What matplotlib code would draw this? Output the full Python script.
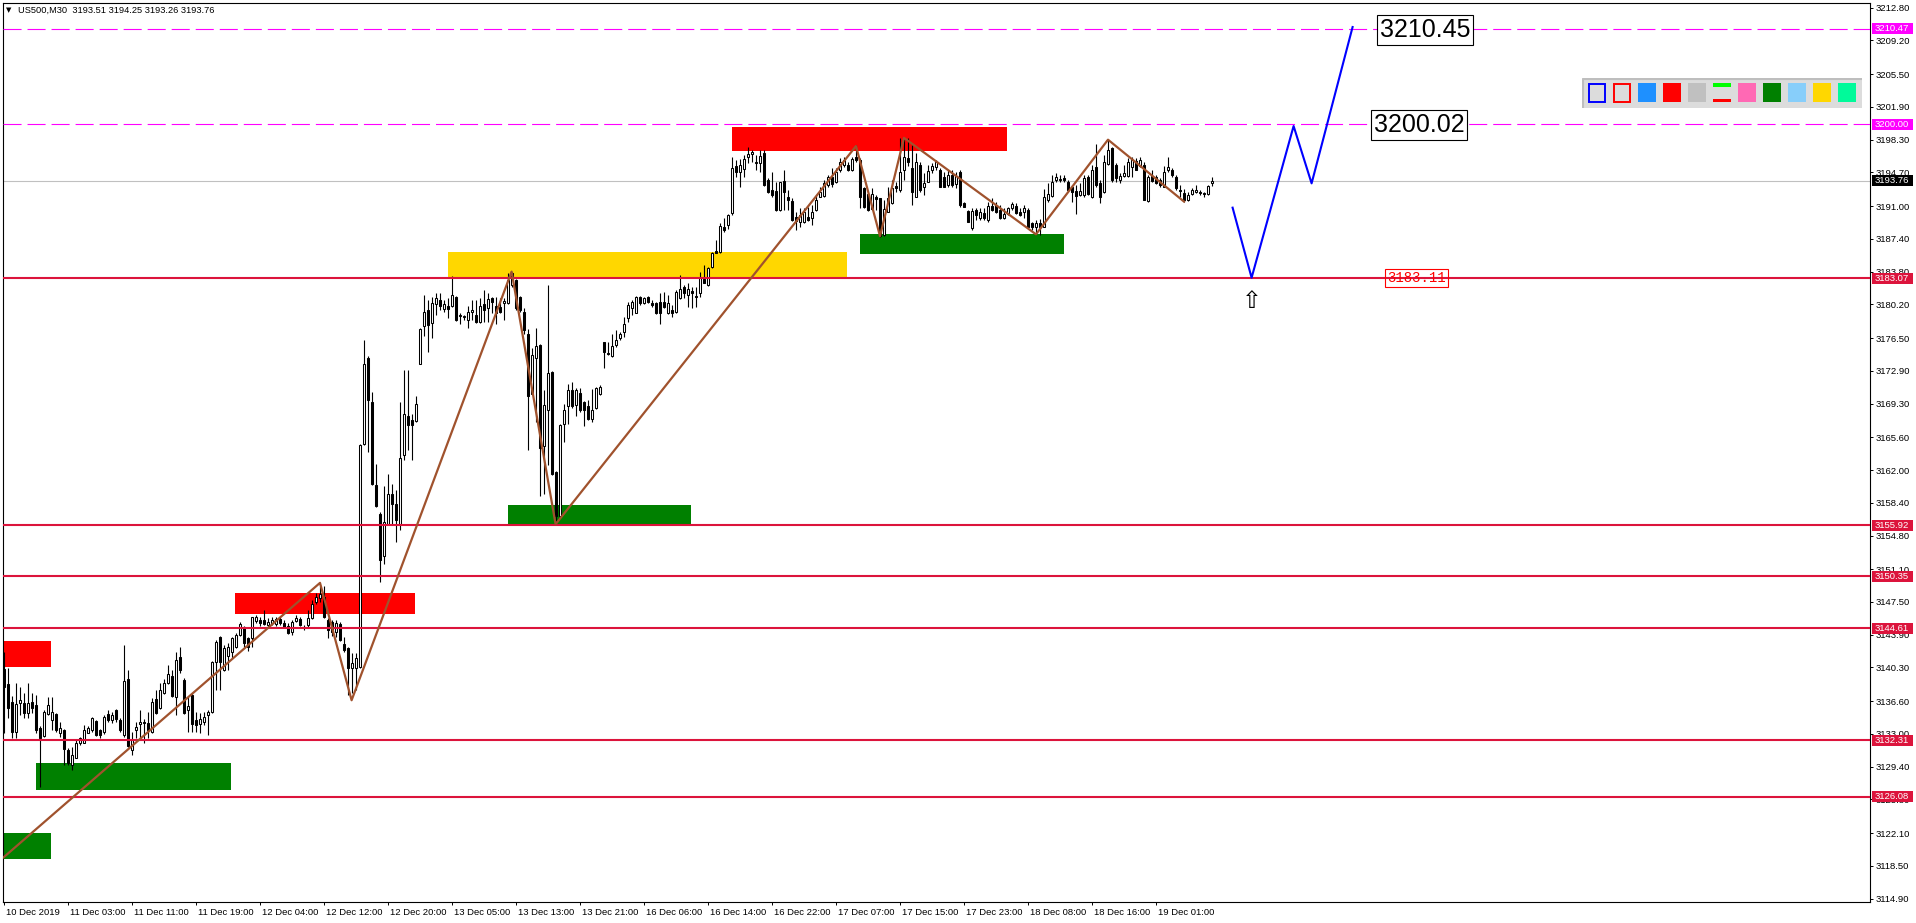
import matplotlib
matplotlib.use("Agg")
import matplotlib.pyplot as plt
import numpy as np
from matplotlib.patches import Rectangle
from matplotlib.transforms import blended_transform_factory, ScaledTranslation

plt.rcParams["font.family"] = ["Liberation Sans", "DejaVu Sans"]
plt.rcParams["lines.scale_dashes"] = False

# ---- US500 M30 candles (bar index 0 = 10 Dec 2019 start) ----
opens = [
    3140.1, 3138.5, 3136.5, 3133.2, 3136.4, 3136.4, 3135.3, 3136.5, 3136.2, 3133.7,
    3132.8, 3135.2, 3134.5, 3135.2, 3133.1, 3133.4, 3131.2, 3129.6, 3130.4, 3132.0,
    3132.0, 3133.1, 3133.4, 3134.4, 3133.4, 3133.2, 3135.2, 3134.5, 3135.6, 3134.5,
    3132.9, 3139.0, 3131.2, 3133.4, 3134.1, 3134.3, 3134.2, 3133.2, 3136.8, 3135.8,
    3137.5, 3138.6, 3139.4, 3137.1, 3141.5, 3138.9, 3135.6, 3137.3, 3134.5, 3134.1,
    3134.3, 3135.1, 3135.4, 3140.9, 3143.6, 3140.0, 3141.6, 3142.0, 3142.6, 3143.9,
    3144.8, 3143.5, 3143.5, 3145.4, 3145.5, 3145.5, 3145.0, 3145.2, 3145.1, 3145.6,
    3145.2, 3144.9, 3144.2, 3145.4, 3145.6, 3144.8, 3145.0, 3145.7, 3147.5, 3147.9,
    3148.1, 3145.5, 3145.3, 3144.2, 3145.1, 3142.9, 3142.4, 3140.2, 3140.2, 3140.4,
    3164.9, 3174.3, 3169.5, 3160.4, 3157.2, 3152.5, 3156.1, 3159.4, 3158.3, 3156.1,
    3163.7, 3167.9, 3167.5, 3167.4, 3173.7, 3177.8, 3179.6, 3178.2, 3180.2, 3180.7,
    3179.7, 3180.0, 3180.0, 3181.0, 3178.9, 3178.8, 3178.5, 3179.4, 3179.0, 3178.3,
    3180.2, 3179.8, 3180.9, 3180.0, 3179.9, 3180.3, 3180.3, 3182.3, 3182.9, 3181.0,
    3179.4, 3177.0, 3170.4, 3174.3, 3175.7, 3164.6, 3168.6, 3172.8, 3161.8, 3156.9,
    3167.1, 3169.0, 3170.8, 3169.1, 3170.5, 3169.5, 3169.0, 3167.6, 3168.8, 3170.4,
    3176.1, 3174.9, 3174.5, 3175.7, 3176.5, 3177.2, 3178.7, 3179.8, 3179.3, 3181.0,
    3180.3, 3181.0, 3180.4, 3180.3, 3180.5, 3180.5, 3179.2, 3179.6, 3179.4, 3180.9,
    3182.1, 3181.2, 3181.7, 3181.1, 3181.4, 3183.0, 3182.3, 3184.3, 3186.1, 3186.0,
    3188.7, 3188.9, 3190.2, 3195.4, 3194.8, 3195.1, 3196.4, 3196.7, 3195.7, 3195.7,
    3196.8, 3193.9, 3192.8, 3192.7, 3190.6, 3193.8, 3192.0, 3191.6, 3189.8, 3189.3,
    3189.2, 3189.8, 3189.7, 3190.6, 3192.0, 3192.1, 3193.3, 3194.2, 3193.6, 3195.0,
    3195.5, 3195.5, 3195.0, 3196.4, 3196.1, 3193.0, 3192.3, 3190.7, 3192.0, 3191.9,
    3187.8, 3190.4, 3191.3, 3193.2, 3192.8, 3195.0, 3196.3, 3195.2, 3192.0, 3195.5,
    3193.1, 3193.7, 3195.0, 3195.3, 3195.0, 3194.2, 3193.3, 3194.4, 3193.4, 3194.8,
    3191.3, 3190.5, 3188.6, 3190.6, 3189.7, 3190.2, 3189.5, 3191.0, 3191.1, 3190.6,
    3189.7, 3190.1, 3190.8, 3191.0, 3190.4, 3190.4, 3190.6, 3189.1, 3188.7, 3189.1,
    3188.7, 3191.7, 3192.1, 3193.9, 3193.9, 3194.1, 3193.7, 3193.1, 3192.7, 3192.2,
    3192.2, 3194.2, 3192.0, 3195.3, 3193.5, 3192.5, 3195.6, 3197.4, 3195.5, 3193.9,
    3194.3, 3194.3, 3195.3, 3196.0, 3195.4, 3195.5, 3191.6, 3194.3, 3194.2, 3193.9,
    3193.1, 3195.0, 3195.0, 3194.2, 3192.8, 3192.4, 3191.7, 3192.3, 3192.6, 3192.6,
    3192.4, 3192.3, 3193.51,
]
highs = [
    3142.0, 3140.2, 3137.2, 3138.6, 3138.2, 3137.5, 3138.6, 3137.5, 3137.3, 3133.9,
    3135.6, 3137.1, 3137.1, 3135.3, 3134.3, 3133.5, 3131.4, 3131.6, 3132.3, 3132.7,
    3134.0, 3133.9, 3134.9, 3134.5, 3133.5, 3135.1, 3135.6, 3135.4, 3135.7, 3134.7,
    3142.8, 3140.0, 3133.2, 3134.3, 3135.6, 3134.6, 3135.4, 3136.9, 3137.8, 3138.6,
    3139.0, 3140.6, 3140.0, 3142.0, 3142.6, 3139.1, 3137.1, 3137.5, 3135.4, 3135.3,
    3135.4, 3135.6, 3141.0, 3143.3, 3143.8, 3142.8, 3143.0, 3143.7, 3144.1, 3145.3,
    3144.9, 3143.7, 3145.9, 3146.1, 3145.8, 3146.6, 3145.7, 3145.8, 3145.8, 3145.8,
    3145.5, 3145.2, 3145.5, 3146.1, 3145.8, 3145.0, 3146.6, 3147.7, 3148.5, 3149.4,
    3149.2, 3145.7, 3145.5, 3145.5, 3145.3, 3143.7, 3142.6, 3141.9, 3141.9, 3164.9,
    3176.3, 3174.5, 3170.6, 3162.7, 3157.4, 3160.2, 3161.6, 3160.5, 3159.8, 3169.5,
    3173.0, 3173.0, 3168.2, 3170.1, 3177.6, 3181.2, 3180.7, 3181.0, 3181.5, 3181.4,
    3180.7, 3180.9, 3183.3, 3181.1, 3179.2, 3179.0, 3180.0, 3180.7, 3180.7, 3180.9,
    3181.8, 3181.4, 3181.0, 3181.0, 3180.9, 3180.9, 3183.6, 3183.8, 3183.0, 3181.1,
    3179.8, 3177.5, 3175.4, 3177.6, 3175.8, 3170.8, 3182.3, 3172.9, 3161.9, 3167.1,
    3169.3, 3171.5, 3171.7, 3171.0, 3171.0, 3169.6, 3169.7, 3170.9, 3171.1, 3171.3,
    3176.1, 3176.1, 3177.0, 3177.4, 3177.2, 3178.8, 3180.5, 3180.7, 3181.1, 3181.1,
    3181.0, 3181.1, 3180.7, 3180.5, 3181.4, 3181.6, 3181.2, 3180.1, 3181.8, 3183.4,
    3182.3, 3182.5, 3182.1, 3182.1, 3183.8, 3184.5, 3184.3, 3186.0, 3187.3, 3189.1,
    3189.7, 3190.1, 3196.4, 3196.1, 3196.2, 3196.6, 3197.5, 3197.2, 3196.6, 3197.2,
    3197.2, 3194.1, 3194.8, 3193.7, 3193.7, 3195.0, 3192.8, 3191.9, 3190.4, 3190.8,
    3190.8, 3190.9, 3191.1, 3192.2, 3193.1, 3193.9, 3194.4, 3195.2, 3195.2, 3196.3,
    3196.4, 3195.9, 3196.4, 3197.7, 3196.3, 3193.1, 3192.4, 3193.0, 3192.2, 3191.9,
    3191.7, 3193.1, 3193.9, 3193.7, 3198.5, 3198.6, 3198.5, 3197.7, 3196.8, 3195.9,
    3194.6, 3195.5, 3195.7, 3196.1, 3195.2, 3194.8, 3195.0, 3195.0, 3194.8, 3195.0,
    3191.5, 3190.6, 3190.8, 3190.8, 3190.8, 3190.8, 3191.4, 3191.9, 3191.5, 3191.1,
    3190.8, 3190.9, 3191.5, 3191.3, 3190.8, 3191.1, 3190.8, 3189.3, 3189.5, 3189.6,
    3192.9, 3193.5, 3194.4, 3194.6, 3194.4, 3194.4, 3193.9, 3193.3, 3193.3, 3193.5,
    3194.4, 3194.4, 3195.5, 3197.8, 3193.9, 3196.6, 3198.3, 3197.5, 3195.7, 3194.6,
    3195.5, 3196.3, 3196.4, 3196.3, 3196.4, 3195.9, 3194.4, 3195.0, 3194.4, 3194.1,
    3195.4, 3196.4, 3195.2, 3194.4, 3193.3, 3192.9, 3192.6, 3193.0, 3193.3, 3192.8,
    3192.6, 3193.3, 3194.25,
]
lows = [
    3133.1, 3134.7, 3132.5, 3132.5, 3135.1, 3134.7, 3134.7, 3135.3, 3133.1, 3127.2,
    3132.7, 3135.1, 3133.4, 3133.2, 3132.7, 3129.6, 3129.6, 3129.0, 3130.3, 3131.8,
    3132.0, 3133.1, 3133.2, 3132.8, 3132.6, 3133.0, 3134.3, 3134.2, 3134.3, 3133.2,
    3132.7, 3131.6, 3130.7, 3132.5, 3132.3, 3132.0, 3132.5, 3133.1, 3135.2, 3135.7,
    3137.4, 3138.5, 3137.1, 3135.1, 3139.7, 3135.2, 3133.2, 3133.2, 3133.2, 3133.1,
    3134.0, 3132.9, 3135.3, 3137.8, 3137.8, 3139.9, 3140.0, 3141.3, 3142.4, 3143.8,
    3142.6, 3142.1, 3142.6, 3145.2, 3144.9, 3145.0, 3144.8, 3145.0, 3144.9, 3145.0,
    3144.7, 3144.0, 3143.9, 3145.3, 3144.9, 3144.4, 3144.8, 3145.6, 3147.3, 3147.5,
    3145.7, 3143.5, 3143.8, 3143.7, 3143.2, 3142.0, 3137.3, 3137.5, 3137.8, 3140.2,
    3164.7, 3164.0, 3160.4, 3157.9, 3149.7, 3151.7, 3156.0, 3156.1, 3154.1, 3155.4,
    3163.1, 3164.2, 3163.1, 3167.3, 3173.6, 3176.7, 3175.0, 3176.5, 3179.0, 3179.6,
    3179.4, 3178.7, 3179.9, 3178.4, 3178.1, 3178.5, 3177.6, 3178.5, 3178.2, 3178.2,
    3178.3, 3178.3, 3179.2, 3178.1, 3179.2, 3178.5, 3180.2, 3182.1, 3179.6, 3179.4,
    3177.0, 3164.2, 3170.3, 3167.3, 3159.1, 3159.4, 3162.6, 3161.5, 3156.0, 3156.7,
    3165.1, 3167.1, 3168.8, 3167.9, 3168.4, 3166.8, 3167.5, 3167.3, 3168.7, 3170.2,
    3173.2, 3174.6, 3174.4, 3175.5, 3176.3, 3176.6, 3178.3, 3179.0, 3179.2, 3180.1,
    3180.2, 3180.3, 3179.9, 3179.1, 3178.1, 3179.8, 3179.1, 3178.8, 3179.2, 3180.8,
    3180.9, 3179.9, 3179.8, 3179.9, 3181.0, 3182.5, 3182.2, 3184.2, 3185.8, 3185.9,
    3188.2, 3188.5, 3190.0, 3194.2, 3193.1, 3194.2, 3195.7, 3195.9, 3195.0, 3194.8,
    3193.2, 3192.4, 3192.0, 3190.5, 3190.5, 3190.6, 3190.6, 3189.4, 3188.4, 3188.7,
    3189.1, 3189.4, 3188.9, 3190.5, 3192.0, 3192.0, 3193.1, 3193.1, 3193.5, 3194.8,
    3195.3, 3194.9, 3194.9, 3195.9, 3190.8, 3190.8, 3190.5, 3190.6, 3190.6, 3187.6,
    3187.7, 3190.3, 3191.2, 3192.6, 3192.6, 3193.9, 3195.4, 3191.1, 3192.0, 3192.6,
    3192.2, 3193.6, 3194.6, 3195.0, 3193.1, 3193.1, 3193.1, 3193.1, 3193.0, 3190.9,
    3190.9, 3189.2, 3188.4, 3189.5, 3189.5, 3189.5, 3189.3, 3190.5, 3190.2, 3189.6,
    3189.6, 3190.0, 3190.6, 3190.1, 3189.9, 3189.7, 3188.6, 3188.4, 3188.1, 3187.8,
    3188.7, 3191.5, 3192.0, 3193.7, 3193.7, 3193.7, 3192.8, 3191.5, 3190.1, 3192.1,
    3192.0, 3192.2, 3191.9, 3193.1, 3191.3, 3192.4, 3195.5, 3193.7, 3193.7, 3193.5,
    3194.2, 3194.2, 3194.2, 3195.0, 3195.3, 3191.7, 3191.5, 3193.7, 3193.4, 3193.1,
    3193.1, 3194.8, 3194.2, 3192.8, 3192.0, 3191.5, 3191.6, 3192.2, 3192.4, 3192.2,
    3192.0, 3192.2, 3193.26,
]
closes = [
    3138.2, 3135.8, 3133.2, 3136.3, 3136.7, 3135.3, 3136.4, 3135.9, 3133.4, 3132.5,
    3135.4, 3136.2, 3135.4, 3133.4, 3133.6, 3131.3, 3129.8, 3130.7, 3132.0, 3132.6,
    3133.4, 3133.7, 3134.7, 3132.9, 3132.9, 3134.9, 3134.5, 3135.1, 3134.6, 3133.4,
    3138.8, 3131.7, 3132.3, 3133.8, 3134.3, 3134.2, 3133.4, 3136.5, 3135.3, 3137.8,
    3138.6, 3139.6, 3137.2, 3141.1, 3140.0, 3135.3, 3136.1, 3134.1, 3134.0, 3134.6,
    3134.9, 3135.4, 3140.9, 3143.1, 3140.9, 3142.4, 3142.6, 3143.5, 3143.9, 3145.1,
    3143.0, 3142.6, 3145.8, 3145.8, 3145.2, 3145.1, 3145.3, 3145.5, 3145.6, 3145.2,
    3144.8, 3144.1, 3145.3, 3145.7, 3145.0, 3144.7, 3145.7, 3147.3, 3148.1, 3148.4,
    3145.9, 3144.4, 3144.2, 3145.2, 3143.3, 3142.2, 3140.2, 3140.8, 3141.3, 3164.7,
    3173.7, 3169.7, 3160.5, 3158.0, 3152.1, 3156.3, 3159.4, 3158.3, 3156.5, 3163.3,
    3168.2, 3167.0, 3167.0, 3169.3, 3177.5, 3179.4, 3177.9, 3180.4, 3180.9, 3180.0,
    3180.2, 3179.7, 3181.2, 3178.5, 3179.0, 3178.9, 3179.4, 3179.6, 3178.3, 3180.0,
    3179.6, 3180.8, 3180.5, 3179.2, 3179.4, 3180.6, 3182.9, 3183.6, 3179.8, 3179.6,
    3177.4, 3170.1, 3174.6, 3175.6, 3164.4, 3169.1, 3172.7, 3161.6, 3156.9, 3166.9,
    3168.6, 3170.8, 3169.0, 3170.8, 3168.6, 3168.6, 3167.6, 3168.6, 3171.0, 3171.1,
    3175.0, 3174.8, 3175.6, 3176.3, 3177.0, 3178.0, 3180.1, 3180.5, 3181.0, 3180.3,
    3180.9, 3180.5, 3180.1, 3179.2, 3179.2, 3179.9, 3180.3, 3179.2, 3181.6, 3181.9,
    3181.5, 3181.9, 3181.4, 3181.0, 3183.1, 3182.6, 3184.2, 3185.9, 3185.9, 3188.8,
    3188.4, 3190.0, 3195.2, 3194.7, 3195.5, 3196.2, 3196.7, 3197.0, 3195.8, 3196.5,
    3193.3, 3192.6, 3192.2, 3190.6, 3193.6, 3192.5, 3191.7, 3189.5, 3189.4, 3190.0,
    3190.3, 3189.5, 3190.4, 3191.7, 3192.5, 3193.5, 3194.2, 3193.4, 3194.8, 3195.9,
    3196.1, 3195.0, 3196.2, 3196.1, 3192.0, 3190.9, 3190.6, 3192.3, 3191.8, 3187.7,
    3190.7, 3191.9, 3193.0, 3193.0, 3194.8, 3196.4, 3195.9, 3192.6, 3195.9, 3192.8,
    3193.5, 3194.9, 3195.4, 3195.9, 3193.1, 3193.1, 3194.4, 3193.3, 3194.3, 3191.1,
    3190.9, 3189.3, 3190.5, 3190.0, 3190.4, 3189.7, 3191.0, 3190.6, 3190.4, 3189.7,
    3190.1, 3190.8, 3191.2, 3190.2, 3190.0, 3190.8, 3188.7, 3188.7, 3189.1, 3188.7,
    3192.0, 3192.3, 3193.6, 3194.2, 3194.0, 3193.9, 3192.8, 3192.5, 3192.1, 3192.7,
    3194.1, 3192.3, 3195.0, 3193.3, 3192.0, 3195.9, 3197.2, 3193.9, 3194.1, 3194.3,
    3194.6, 3195.9, 3196.1, 3195.0, 3196.1, 3191.7, 3194.2, 3193.8, 3193.5, 3193.3,
    3194.8, 3195.3, 3194.4, 3193.0, 3192.7, 3191.7, 3192.2, 3192.8, 3192.8, 3192.4,
    3192.3, 3193.2, 3193.76,
]

time_ticks = [0, 16, 32, 48, 64, 80, 96, 112, 128, 144, 160, 176, 192, 208, 224, 240, 256, 272, 288]
time_labels = ["10 Dec 2019", "11 Dec 03:00", "11 Dec 11:00", "11 Dec 19:00", "12 Dec 04:00",
               "12 Dec 12:00", "12 Dec 20:00", "13 Dec 05:00", "13 Dec 13:00", "13 Dec 21:00",
               "16 Dec 06:00", "16 Dec 14:00", "16 Dec 22:00", "17 Dec 07:00", "17 Dec 15:00",
               "17 Dec 23:00", "18 Dec 08:00", "18 Dec 16:00", "19 Dec 01:00"]
price_ticks = [3212.80, 3209.20, 3205.50, 3201.90, 3198.30, 3194.70, 3191.00, 3187.40, 3183.80,
               3180.20, 3176.50, 3172.90, 3169.30, 3165.60, 3162.00, 3158.40, 3154.80, 3151.10,
               3147.50, 3143.90, 3140.30, 3136.60, 3133.00, 3129.40, 3125.80, 3122.10, 3118.50,
               3114.90]

# horizontal levels
support_levels = [3183.07, 3155.92, 3150.35, 3144.61, 3132.31, 3126.08]
target_levels = [3210.47, 3200.00]
bid_price = 3193.76

# zones: (first bar, last bar, low price, high price, colour)
zone_start = [0.0, 0.0, 8.0, 57.9, 111.1, 126.0, 182.0, 214.0]
zone_end = [11.9, 11.9, 56.9, 102.8, 210.75, 171.9, 250.9, 265.0]
zone_low = [3140.35, 3119.3, 3126.87, 3146.14, 3182.99, 3155.9, 3197.06, 3185.74]
zone_high = [3143.2, 3122.1, 3129.77, 3148.52, 3185.96, 3158.16, 3199.73, 3187.94]
zone_color = ["#FF0000", "#008000", "#008000", "#FF0000", "#FFD700", "#008000", "#FF0000", "#008000"]

# zigzag swings
zz_bars = [0, 79.1, 87, 127, 138, 213.1, 219.1, 225.1, 258.1, 276.1, 295.1]
zz_prices = [3119.44, 3149.6, 3136.7, 3183.8, 3156.04, 3197.6, 3187.7, 3198.5, 3187.9, 3198.3, 3191.5]

# forecast path
proj_bars = [307.25, 312.0, 322.5, 327.0, 337.25]
proj_prices = [3190.83, 3183.13, 3199.8, 3193.5, 3210.68]

swatch_colors = ["#0000FF", "#FF0000", "#1E90FF", "#FF0000", "#C0C0C0", "lines",
                 "#FF69B4", "#008000", "#87CEFA", "#FFD700", "#00FA9A"]

W, H = 1916, 923
fig = plt.figure(figsize=(W / 100, H / 100), dpi=100)
ax = fig.add_axes([3 / W, 21 / H, 1867 / W, 899 / H])
ax.set_xlim(-0.15, 466.6)
ax.set_ylim(3114.53, 3213.32)
px = (3213.32 - 3114.53) / 899  # price per pixel

for s, e, lo, hi, col in zip(zone_start, zone_end, zone_low, zone_high, zone_color):
    ax.add_patch(Rectangle((s, lo), e - s, hi - lo, facecolor=col, edgecolor="none", zorder=1))

ax.axhline(bid_price, color="#C0C0C0", lw=0.8, zorder=1.5)

o = np.array(opens)
c = np.array(closes)
h = np.maximum(np.array(highs), np.maximum(o, c))
l = np.minimum(np.array(lows), np.minimum(o, c))
idx = np.arange(len(c))
up = c >= o
ax.vlines(idx, l, h, color="black", lw=0.8, zorder=3)
body_lo = np.minimum(o, c)
body_h = np.abs(c - o)
ax.bar(idx[up], body_h[up], 0.5, body_lo[up], facecolor="white", edgecolor="black", lw=0.75, zorder=4)
ax.bar(idx[~up], body_h[~up], 0.5, body_lo[~up], facecolor="black", edgecolor="black", lw=0.75, zorder=4)

for lv in support_levels:
    ax.axhline(lv, color="#DC143C", lw=1.5, zorder=5)
for lv in target_levels:
    ax.axhline(lv, color="#FF00FF", lw=0.8, dashes=(13, 4.3), zorder=5)

ax.plot(zz_bars, zz_prices, color="#A0522D", lw=1.6, zorder=6)
ax.plot(proj_bars, proj_prices, color="#0000FF", lw=1.5, zorder=6)

ax.text(344, 3210.3, "3210.45", fontsize=18, ha="left", va="center", color="black", zorder=8,
        bbox=dict(boxstyle="square,pad=0.12", fc="white", ec="black", lw=0.8))
ax.text(342.5, 3199.96, "3200.02", fontsize=18, ha="left", va="center", color="black", zorder=8,
        bbox=dict(boxstyle="square,pad=0.12", fc="white", ec="black", lw=0.8))
ax.text(353.25, 3183.07, "3183.11", fontsize=10, family=["Liberation Mono", "DejaVu Sans Mono"],
        ha="center", va="center", color="#FF0000", zorder=8,
        bbox=dict(boxstyle="square,pad=0.15", fc="none", ec="#FF0000", lw=0.8))
ax.text(312, 3180.6, "\u21e7", fontsize=17, family="DejaVu Sans", ha="center", va="center",
        color="black", zorder=8)

# axes styling
for sp in ax.spines.values():
    sp.set_linewidth(0.8)
ax.yaxis.tick_right()
ax.set_yticks(price_ticks)
ax.set_yticklabels([f"{v:.2f}" for v in price_ticks])
ax.set_xticks(time_ticks)
ax.set_xticklabels(time_labels)
ax.tick_params(axis="both", direction="out", length=2.5, width=0.7, pad=1.5, labelsize=6.8)
shift = ScaledTranslation(0.02, 0, fig.dpi_scale_trans)
for lab in ax.get_xticklabels():
    lab.set_horizontalalignment("left")
    lab.set_transform(lab.get_transform() + shift)

# price tags on the right scale
trans = blended_transform_factory(ax.transAxes, ax.transData)
tags = [(lv, "#DC143C") for lv in support_levels] + [(lv, "#FF00FF") for lv in target_levels] + [(bid_price, "black")]
for lv, col in tags:
    ax.add_patch(Rectangle((1 + 2 / 1867, lv - 5.5 * px), 41 / 1867, 11 * px, transform=trans,
                           facecolor=col, edgecolor="none", clip_on=False, zorder=9))
    label = "3210.47" if lv == 3210.47 else f"{lv:.2f}"
    ax.text(1 + 4.5 / 1867, lv, label, transform=trans, fontsize=6.8, color="white",
            ha="left", va="center", clip_on=False, zorder=10)

# header
fig.text(6 / W, 1 - 10.5 / H, "\u25bc", fontsize=5, family="DejaVu Sans", ha="left", va="center")
fig.text(18 / W, 1 - 10.5 / H, "US500,M30  3193.51 3194.25 3193.26 3193.76", fontsize=6.7,
         ha="left", va="center")

# object toolbar
tb = fig.add_axes([1582 / W, 1 - 108 / H, 280 / W, 30 / H])
tb.set_xlim(0, 280)
tb.set_ylim(30, 0)
tb.axis("off")
tb.add_patch(Rectangle((0, 0), 280, 30, facecolor="#DCDCDC", edgecolor="none"))
tb.plot([1, 1, 280], [30, 1, 1], color="#BEBEBE", lw=1.5)
for k, col in enumerate(swatch_colors):
    x0 = 5.7 + 25 * k
    if k < 2:
        tb.add_patch(Rectangle((x0 + 0.8, 5.8), 16.8, 17.8, facecolor="none", edgecolor=col, lw=1.4))
    elif col == "lines":
        tb.add_patch(Rectangle((x0, 5.0), 18.4, 4.3, facecolor="#00FF00", edgecolor="none"))
        tb.add_patch(Rectangle((x0, 20.6), 18.4, 3.8, facecolor="#FF0000", edgecolor="none"))
    else:
        tb.add_patch(Rectangle((x0, 5.0), 18.4, 19.4, facecolor=col, edgecolor="none"))

fig.savefig("out.png", dpi=100)
